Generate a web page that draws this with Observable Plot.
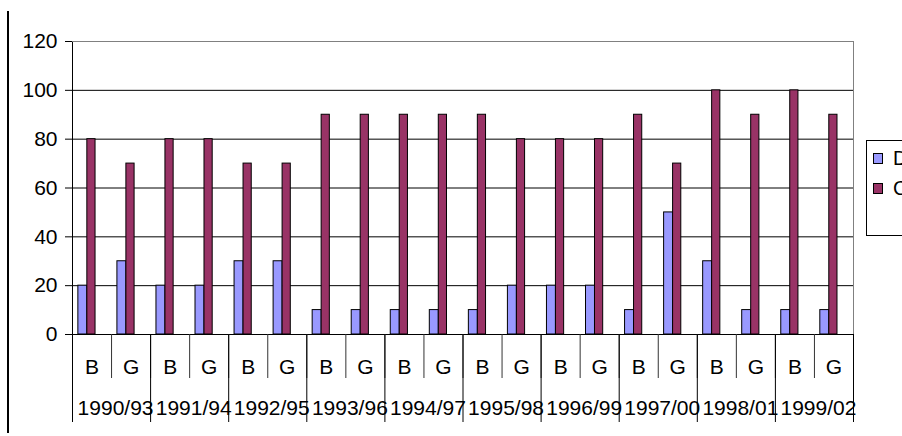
<!DOCTYPE html>
<html>
<head>
<meta charset="utf-8">
<script src="https://cdn.jsdelivr.net/npm/d3@7"></script>
<script src="https://cdn.jsdelivr.net/npm/@observablehq/plot@0.6"></script>
<style>
  html, body { margin: 0; padding: 0; background: #fff; }
  #wrap { position: relative; width: 902px; height: 436px; overflow: hidden; font-family: "Liberation Sans", Arial, sans-serif; }
  #chart svg { display: block; }
  #leftline { position: absolute; left: 7px; top: 11px; width: 2px; height: 422px; background: #000; }
  #legend { position: absolute; left: 866px; top: 140px; width: 80px; height: 94px; border: 1px solid #000; background: #fff; font-size: 20px; }
  .li { position: absolute; left: 6px; display: flex; align-items: center; white-space: nowrap; }
  .sw { width: 8px; height: 9px; border: 1px solid #000; margin-right: 10px; }
</style>
</head>
<body>
<div id="wrap">
  <div id="chart"></div>
  <div id="leftline"></div>
  <div id="legend"></div>
</div>
<script>
// ---- data ----
const years = ["1990/93","1991/94","1992/95","1993/96","1994/97","1995/98","1996/99","1997/00","1998/01","1999/02"];
const groups = ["B","G"];
const seriesNames = ["D","C"];
const seriesColors = ["#9999ff","#993366"];
const valuesD = [20,30, 20,20, 30,30, 10,10, 10,10, 10,20, 20,20, 10,50, 30,10, 10,10];
const valuesC = [80,70, 80,80, 70,70, 90,90, 90,90, 90,80, 80,80, 90,70, 100,90, 100,90];
const yTicks = [0,20,40,60,80,100,120];

// table built from the arrays
const rows = [];
years.forEach((yr, k) => groups.forEach((g, j) => {
  const i = k * groups.length + j;
  rows.push({i, year: yr, group: g, D: valuesD[i], C: valuesC[i]});
}));
const yearRows = years.map((yr, k) => ({year: yr, i: k * groups.length}));
const nCat = rows.length;
const bounds = d3.range(nCat + 1);
const yearBounds = d3.range(0, nCat + 1, groups.length);

// styling constants (fractions of a category slot)
const blueStart = 0.15, blueEnd = 0.38, redEnd = 0.59;
const font = "'Liberation Sans', Arial, sans-serif";

const plot = Plot.plot({
  width: 902,
  height: 436,
  marginLeft: 72,
  marginRight: 49,
  marginTop: 41,
  marginBottom: 102,
  style: {fontFamily: font, fontSize: "21px", color: "#000", background: "transparent", overflow: "visible"},
  x: {domain: [0, nCat], axis: null},
  y: {domain: [0, 120], ticks: yTicks, tickSize: 7, tickPadding: 8, label: null, line: true, tickFormat: d3.format("d")},
  marks: [
    Plot.ruleY(yTicks.filter(v => v > 0 && v < 120), {stroke: "#000", strokeWidth: 1}),
    Plot.ruleY([120], {stroke: "#808080"}),
    Plot.ruleX([nCat], {stroke: "#808080"}),
    Plot.rectY(rows, {x1: d => d.i + blueStart, x2: d => d.i + blueEnd, y1: 0, y2: "D", fill: seriesColors[0], stroke: "#000", strokeWidth: 1}),
    Plot.rectY(rows, {x1: d => d.i + blueEnd, x2: d => d.i + redEnd, y1: 0, y2: "C", fill: seriesColors[1], stroke: "#000", strokeWidth: 1}),
    Plot.ruleY([0], {stroke: "#000"}),
    // category separators below the axis
    Plot.ruleX(bounds, {x: d => d, y1: 0, y2: 0, insetTop: 0, insetBottom: -44, stroke: "#333"}),
    Plot.ruleX(yearBounds, {x: d => d, y1: 0, y2: 0, insetTop: 0, insetBottom: -88, stroke: "#000"}),
    Plot.text(rows, {x: d => d.i + 0.5, y: 0, text: "group", dy: 33, fontSize: 21, fill: "#000"}),
    Plot.text(yearRows, {x: d => d.i + 1, y: 0, text: "year", dy: 74, dx: 4, fontSize: 21, fill: "#000"})
  ]
});
document.getElementById("chart").appendChild(plot);

// legend
const legend = document.getElementById("legend");
seriesNames.forEach((name, k) => {
  const li = document.createElement("div");
  li.className = "li";
  li.style.top = (6 + k * 30) + "px";
  const sw = document.createElement("div");
  sw.className = "sw";
  sw.style.background = seriesColors[k];
  const t = document.createElement("span");
  t.textContent = name;
  li.appendChild(sw); li.appendChild(t);
  legend.appendChild(li);
});
</script>
</body>
</html>
